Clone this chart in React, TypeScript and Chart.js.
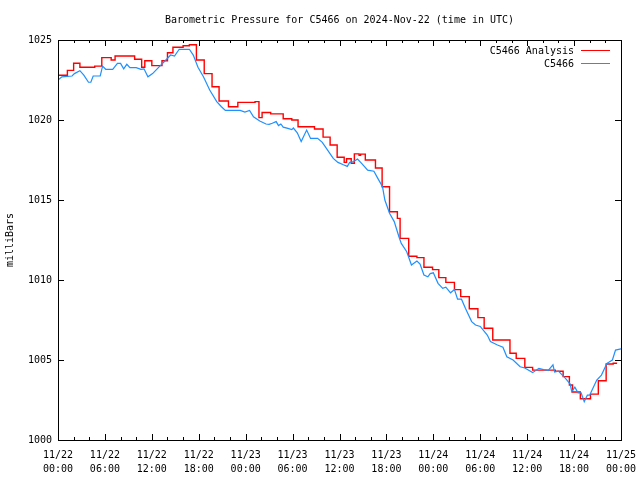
import React, { useEffect, useRef } from 'react';
import { Chart, registerables } from 'chart.js';

Chart.register(...registerables);

const titleText = 'Barometric Pressure for C5466 on 2024-Nov-22 (time in UTC)';
const yAxisTitle = 'milliBars';
const seriesNames = ['C5466 Analysis', 'C5466'];
const seriesColors = ['#ff0000', '#1e90ff'];

const xTickHours = [0, 6, 12, 18, 24, 30, 36, 42, 48, 54, 60, 66, 72];
const xTickDates = ['11/22', '11/22', '11/22', '11/22', '11/23', '11/23', '11/23', '11/23', '11/24', '11/24', '11/24', '11/24', '11/25'];
const xTickTimes = ['00:00', '06:00', '12:00', '18:00', '00:00', '06:00', '12:00', '18:00', '00:00', '06:00', '12:00', '18:00', '00:00'];
const yTickValues = [1000, 1005, 1010, 1015, 1020, 1025];

// Analysis (hours since 11/22 00:00 UTC, mb) – value holds until next hour entry
const redHours = [0, 1.2, 2.0, 2.8, 4.7, 5.6, 6.8, 7.3, 9.8, 10.7, 11.1, 12.0, 13.3, 14.0, 14.7, 16.0, 16.8, 17.7, 18.7, 19.7, 20.6, 21.8, 23.0, 25.2, 25.7, 26.1, 27.2, 28.8, 29.9, 30.7, 32.8, 33.9, 34.8, 35.7, 36.6, 36.9, 37.5, 37.9, 38.5, 38.7, 39.3, 40.6, 41.45, 42.4, 43.4, 43.75, 44.85, 45.9, 46.8, 47.9, 48.7, 49.6, 50.7, 51.5, 52.6, 53.7, 54.5, 55.6, 57.8, 58.6, 59.7, 60.7, 63.6, 64.6, 65.4, 65.8, 66.8, 68.1, 69.1, 70.1, 71.0, 71.5];
const redValues = [1022.8, 1023.1, 1023.55, 1023.3, 1023.37, 1023.9, 1023.75, 1024.0, 1023.8, 1023.3, 1023.7, 1023.4, 1023.7, 1024.2, 1024.55, 1024.64, 1024.7, 1023.75, 1022.9, 1022.08, 1021.19, 1020.83, 1021.1, 1021.15, 1020.15, 1020.47, 1020.38, 1020.08, 1020.0, 1019.58, 1019.44, 1018.93, 1018.44, 1017.67, 1017.35, 1017.58, 1017.3, 1017.88, 1017.8, 1017.87, 1017.5, 1017.0, 1015.83, 1014.27, 1013.85, 1012.6, 1011.48, 1011.4, 1010.8, 1010.65, 1010.15, 1009.85, 1009.4, 1008.96, 1008.2, 1007.65, 1006.98, 1006.25, 1005.42, 1005.1, 1004.54, 1004.37, 1004.3, 1003.96, 1003.44, 1003.0, 1002.58, 1002.87, 1003.7, 1004.75, 1004.8, 1004.8];

// Station observations
const blueHours = [0, 0.5, 1.8, 2.1, 2.8, 3.3, 3.9, 4.2, 4.5, 5.4, 5.7, 6.1, 7.0, 7.6, 8.0, 8.4, 8.8, 9.2, 10.0, 10.6, 11.0, 11.5, 12.1, 12.9, 13.8, 14.4, 14.9, 15.5, 16.8, 17.3, 17.9, 18.6, 19.4, 20.3, 20.9, 21.4, 23.3, 23.9, 24.5, 25.0, 25.8, 26.6, 27.0, 27.4, 27.9, 28.2, 28.5, 28.8, 29.4, 29.9, 30.1, 30.6, 31.1, 31.8, 32.3, 33.2, 33.8, 34.5, 35.2, 35.8, 36.5, 37.0, 37.3, 37.8, 38.3, 38.8, 39.6, 40.4, 40.9, 41.5, 41.8, 42.4, 43.0, 43.6, 43.9, 44.6, 45.2, 45.9, 46.3, 46.8, 47.3, 47.6, 48.0, 48.6, 49.2, 49.6, 50.2, 50.7, 51.1, 51.6, 52.1, 52.9, 53.4, 54.0, 54.9, 55.3, 56.2, 56.9, 57.4, 58.2, 59.1, 59.7, 60.7, 61.5, 62.1, 62.7, 63.3, 63.5, 64.0, 64.9, 65.5, 65.7, 66.1, 66.5, 66.9, 67.3, 67.7, 68.0, 68.2, 68.9, 69.5, 70.2, 70.9, 71.3, 72.0];
const blueValues = [1022.5, 1022.7, 1022.75, 1022.9, 1023.08, 1022.8, 1022.36, 1022.36, 1022.75, 1022.75, 1023.37, 1023.17, 1023.17, 1023.54, 1023.54, 1023.2, 1023.48, 1023.27, 1023.27, 1023.17, 1023.2, 1022.7, 1022.9, 1023.3, 1023.75, 1024.06, 1024.0, 1024.42, 1024.42, 1024.06, 1023.3, 1022.7, 1021.87, 1021.15, 1020.83, 1020.6, 1020.6, 1020.5, 1020.6, 1020.2, 1019.94, 1019.75, 1019.73, 1019.8, 1019.9, 1019.65, 1019.75, 1019.55, 1019.48, 1019.4, 1019.5, 1019.2, 1018.65, 1019.37, 1018.85, 1018.85, 1018.6, 1018.1, 1017.6, 1017.35, 1017.2, 1017.1, 1017.35, 1017.4, 1017.56, 1017.3, 1016.87, 1016.8, 1016.35, 1015.83, 1015.0, 1014.17, 1013.65, 1012.7, 1012.29, 1011.77, 1010.94, 1011.19, 1011.0, 1010.31, 1010.2, 1010.4, 1010.45, 1009.79, 1009.48, 1009.55, 1009.2, 1009.4, 1008.8, 1008.8, 1008.23, 1007.4, 1007.19, 1007.1, 1006.56, 1006.15, 1005.94, 1005.8, 1005.2, 1005.0, 1004.58, 1004.5, 1004.21, 1004.48, 1004.4, 1004.35, 1004.7, 1004.25, 1004.3, 1003.85, 1003.5, 1003.02, 1003.3, 1002.95, 1002.95, 1002.4, 1002.8, 1002.8, 1003.02, 1003.75, 1004.06, 1004.79, 1005.0, 1005.62, 1005.7];

const FONT = "'DejaVu Sans Mono', 'Liberation Mono', monospace";

const framePlugin = {
  id: 'gnuplotFrame',
  afterDatasetsDraw(chart: any) {
    const { ctx, chartArea } = chart;
    const { left, right, top, bottom } = chartArea;
    const xs = chart.scales.x;
    const ys = chart.scales.y;
    ctx.save();
    ctx.strokeStyle = '#000';
    ctx.lineWidth = 1;
    ctx.beginPath();
    // minor x ticks every 2 h, major every 6 h
    for (let h = 0; h <= 72; h += 2) {
      const px = Math.round(xs.getPixelForValue(h)) + 0.5;
      const len = h % 6 === 0 ? 6 : 3;
      ctx.moveTo(px, bottom);
      ctx.lineTo(px, bottom - len);
      ctx.moveTo(px, top);
      ctx.lineTo(px, top + len);
    }
    yTickValues.forEach((v) => {
      const py = Math.round(ys.getPixelForValue(v)) + 0.5;
      ctx.moveTo(left, py);
      ctx.lineTo(left + 6, py);
      ctx.moveTo(right, py);
      ctx.lineTo(right - 6, py);
    });
    ctx.stroke();
    ctx.strokeRect(Math.round(left) + 0.5, Math.round(top) + 0.5, Math.round(right - left), Math.round(bottom - top));
    // legend
    ctx.font = `10px ${FONT}`;
    ctx.textAlign = 'right';
    ctx.textBaseline = 'middle';
    chart.data.datasets.forEach((ds: any, i: number) => {
      const y = Math.round(top + 10 + i * 13) + 0.5;
      ctx.fillStyle = '#000';
      ctx.fillText(ds.label, right - 47, y + 0.5);
      ctx.strokeStyle = ds.borderColor;
      ctx.beginPath();
      ctx.moveTo(right - 40, y);
      ctx.lineTo(right - 11, y);
      ctx.stroke();
    });
    ctx.restore();
  },
};

export default function App() {
  const canvasRef = useRef<HTMLCanvasElement | null>(null);

  useEffect(() => {
    document.body.style.margin = '0';
    const canvas = canvasRef.current;
    if (!canvas) return;
    const chart = new Chart(canvas, {
      type: 'line',
      data: {
        datasets: [
          {
            label: seriesNames[0],
            data: redHours.map((h, i) => ({ x: h, y: redValues[i] })),
            borderColor: seriesColors[0],
            backgroundColor: seriesColors[0],
            borderWidth: 1.4,
            pointRadius: 0,
            stepped: true,
            fill: false,
            order: 1,
          },
          {
            label: seriesNames[1],
            data: blueHours.map((h, i) => ({ x: h, y: blueValues[i] })),
            borderColor: seriesColors[1],
            backgroundColor: seriesColors[1],
            borderWidth: 1.2,
            pointRadius: 0,
            tension: 0,
            fill: false,
            order: 0,
          },
        ],
      },
      options: {
        animation: false,
        responsive: true,
        maintainAspectRatio: false,
        layout: { padding: { left: 0, right: 19, top: 0, bottom: 0 } },
        plugins: {
          legend: { display: false },
          tooltip: { enabled: false },
          title: {
            display: true,
            text: titleText,
            fullSize: false,
            color: '#000',
            font: { family: FONT, size: 10, weight: 'normal', lineHeight: 1.2 },
            padding: { top: 14, bottom: 14 },
          },
        },
        scales: {
          x: {
            type: 'linear',
            min: 0,
            max: 72,
            afterFit: (s: any) => { s.height = 40; s.paddingLeft = 0; s.paddingRight = 0; },
            afterBuildTicks: (s: any) => { s.ticks = xTickHours.map((v) => ({ value: v })); },
            grid: { display: false, drawTicks: false },
            border: { display: false },
            ticks: {
              autoSkip: false,
              maxRotation: 0,
              padding: 8,
              color: '#000',
              font: { family: FONT, size: 10, lineHeight: 1.4 },
              callback: (v: any) => {
                const i = xTickHours.indexOf(Number(v));
                return i >= 0 ? [xTickDates[i], xTickTimes[i]] : '';
              },
            },
          },
          y: {
            type: 'linear',
            min: 1000,
            max: 1025,
            afterFit: (s: any) => { s.width = 58; s.paddingTop = 0; s.paddingBottom = 0; },
            afterBuildTicks: (s: any) => { s.ticks = yTickValues.map((v) => ({ value: v })); },
            grid: { display: false, drawTicks: false },
            border: { display: false },
            title: {
              display: true,
              text: yAxisTitle,
              color: '#000',
              font: { family: FONT, size: 10, lineHeight: 1.2 },
              padding: { top: 4, bottom: 0 },
            },
            ticks: {
              padding: 6,
              color: '#000',
              font: { family: FONT, size: 10 },
              callback: (v: any) => String(v),
            },
          },
        },
      },
      plugins: [framePlugin],
    });
    return () => chart.destroy();
  }, []);

  return (
    <div style={{ width: 640, height: 480, position: 'relative', background: '#fff' }}>
      <canvas ref={canvasRef} />
    </div>
  );
}
